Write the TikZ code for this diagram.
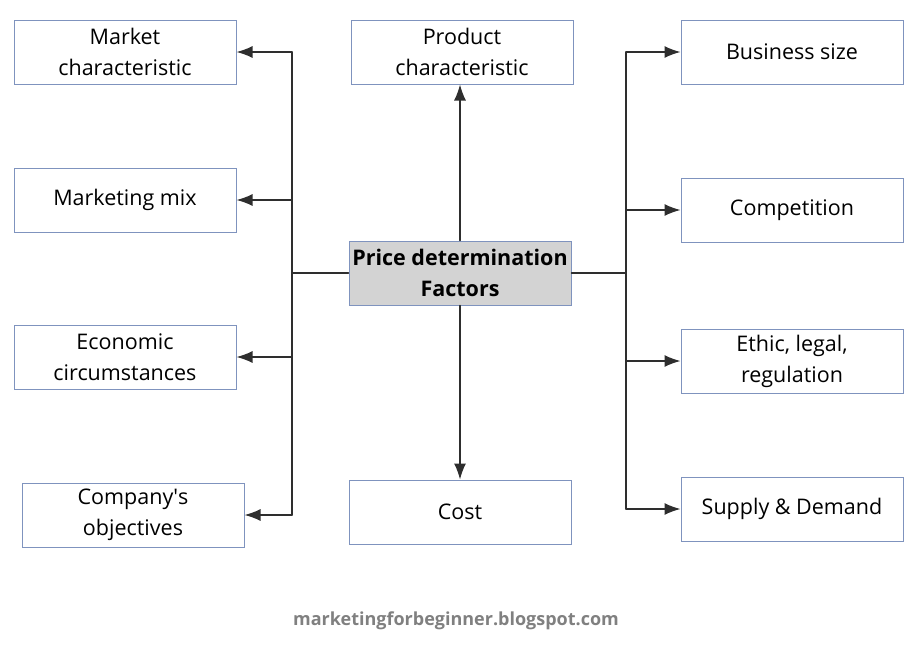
\documentclass[tikz,border=0pt]{standalone}
\usepackage{fontspec}
\setmainfont{Open Sans}
\usetikzlibrary{arrows.meta}
\tikzset{
  factor/.style={draw=boxblue, line width=1pt, fill=white, minimum width=222pt, minimum height=64pt,
    align=center, inner sep=2pt, font=\fontsize{21.5}{31}\selectfont},
  link/.style={draw=linkgray, line width=1.4pt},
  tolink/.style={link, -{Latex[length=16pt,width=12pt]}}
}
\begin{document}
\begin{tikzpicture}[x=1pt, y=-1pt, line cap=round]
  \definecolor{boxblue}{HTML}{7F93BE}
  \definecolor{linkgray}{HTML}{2E2E2E}
  \definecolor{centergray}{HTML}{D3D3D3}
  \definecolor{markgray}{HTML}{808080}
  \useasboundingbox (0,0) rectangle (921,648);
  % centre
  \node[factor, fill=centergray, font=\fontsize{21.5}{31}\selectfont\bfseries] (price) at (460,273) {Price determination\\Factors};
  \node[factor] (product) at (462,52) {Product\\characteristic};
  \node[factor] (cost) at (460,512) {Cost};
  % left side
  \foreach \n/\x/\y/\t in {market/125/52/{Market\\characteristic}, mix/125/200/{Marketing mix},
      economic/125/357/{Economic\\circumstances}, objectives/133/515/{Company\textquotesingle s\\objectives}}
    \node[factor] (\n) at (\x,\y) {\t};
  % right side
  \foreach \n/\y/\t in {size/52/{Business size}, competition/210/{Competition},
      ethic/361/{Ethic, legal,\\regulation}, supply/509/{Supply \& Demand}}
    \node[factor] (\n) at (792,\y) {\t};
  % connectors
  \coordinate (lt) at (292,273);
  \coordinate (rt) at (626,273);
  \draw[link] (price.west) -- (lt);
  \draw[link] (lt |- market.east) -- (lt |- objectives.east);
  \foreach \n in {market, mix, economic, objectives}
    \draw[tolink] (lt |- \n.east) -- (\n.east);
  \draw[link] (price.east) -- (rt);
  \draw[link] (rt |- size.west) -- (rt |- supply.west);
  \foreach \n in {size, competition, ethic, supply}
    \draw[tolink] (rt |- \n.west) -- (\n.west);
  \draw[tolink] (price.north) -- (price.north |- product.south);
  \draw[tolink] (price.south) -- (cost.north);
  \node[markgray, font=\fontsize{18}{20}\selectfont\bfseries] (blog) at (456,621) {marketingforbeginner.blogspot.com};
\end{tikzpicture}
\end{document}
